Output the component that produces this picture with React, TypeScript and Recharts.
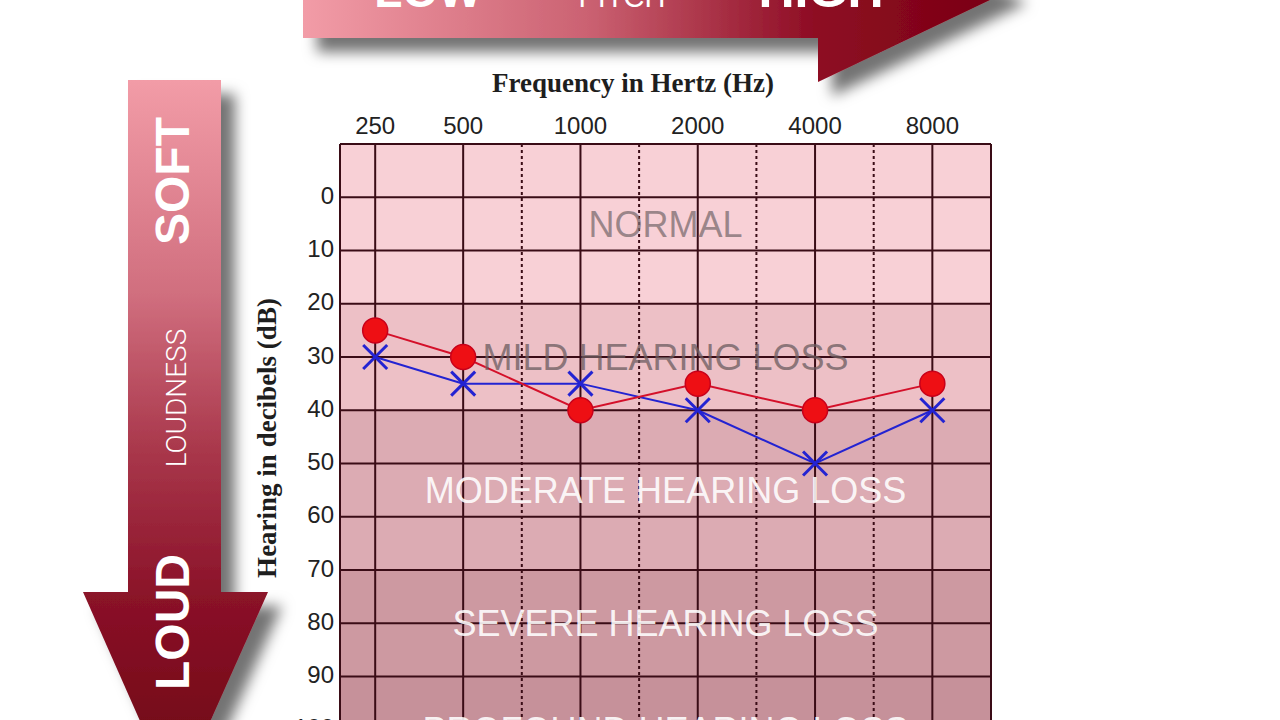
import React from 'react';
import { LineChart, Line, XAxis, YAxis, ReferenceArea, ReferenceLine } from 'recharts';

// ---- data ----
const frequencies = [250, 500, 1000, 2000, 4000, 8000];
const frequencyLabels = ['250', '500', '1000', '2000', '4000', '8000'];
const rightEarDb = [25, 30, 40, 35, 40, 35];
const leftEarDb = [30, 35, 35, 40, 50, 40];
const dbTicks = [0, 10, 20, 30, 40, 50, 60, 70, 80, 90, 100];
const bandNames = ['NORMAL', 'MILD HEARING LOSS', 'MODERATE HEARING LOSS', 'SEVERE HEARING LOSS', 'PROFOUND HEARING LOSS'];
const bandFrom = [-10, 20, 40, 70, 90];
const bandTo = [20, 40, 70, 90, 110];

// ---- styles ----
const bandFills = ['#f8d0d6', '#edc0c6', '#dcabb3', '#cd99a1', '#c6919a'];
const bandTextFills = ['#7c6c70', '#6c5c60', '#ffffff', '#ffffff', '#ffffff'];
const bandTextOpacity = [0.75, 0.75, 0.9, 0.9, 0.9];
const GRID = '#3a0c16';
const SANS = '"Liberation Sans", Arial, sans-serif';
const SERIF = '"Liberation Serif", "Times New Roman", serif';

// audiogram column position: octaves from 500 Hz, the 250 Hz column is compressed
const freqPos = (f: number) => (f < 500 ? 0.25 : Math.log2(f / 500) + 1);
const freqTicks = frequencies.map(freqPos);
const midTicks = freqTicks.slice(1, -1).map((p, i) => (p + freqTicks[i + 2]) / 2);
const X_DOMAIN: [number, number] = [-0.05, 5.5];

const data = frequencies.map((f, i) => ({ pos: freqPos(f), right: rightEarDb[i], left: leftEarDb[i] }));

const RedDot = (props: any) => {
  const { cx, cy, index } = props;
  if (cx == null || cy == null) return <g key={`r${index}`} />;
  return <circle key={`r${index}`} cx={cx} cy={cy} r={12.5} fill="#ee0f14" stroke="#c8001a" strokeWidth={1.5} />;
};

const BlueX = (props: any) => {
  const { cx, cy, index } = props;
  if (cx == null || cy == null) return <g key={`b${index}`} />;
  const s = 12;
  return (
    <g key={`b${index}`} stroke="#2323d2" strokeWidth={3}>
      <line x1={cx - s} y1={cy - s} x2={cx + s} y2={cy + s} />
      <line x1={cx - s} y1={cy + s} x2={cx + s} y2={cy - s} />
    </g>
  );
};

const Arrows = () => (
  <svg width={1280} height={720} style={{ position: 'absolute', left: 0, top: 0 }}>
    <defs>
      <linearGradient id="gTop" gradientUnits="userSpaceOnUse" x1={303} y1={0} x2={1013} y2={0}>
        <stop offset="0" stopColor="#f29ca7" />
        <stop offset="0.4" stopColor="#cb6272" />
        <stop offset="0.72" stopColor="#8e0c24" />
        <stop offset="1" stopColor="#780010" />
      </linearGradient>
      <linearGradient id="gLeft" gradientUnits="userSpaceOnUse" x1={0} y1={80} x2={0} y2={800}>
        <stop offset="0" stopColor="#f29ca7" />
        <stop offset="0.3" stopColor="#d06e7e" />
        <stop offset="0.52" stopColor="#a8364a" />
        <stop offset="0.72" stopColor="#8a1228" />
        <stop offset="1" stopColor="#6a0010" />
      </linearGradient>
      <filter id="shadow" x="-20%" y="-20%" width="150%" height="150%">
        <feDropShadow dx={14} dy={14} stdDeviation={7} floodColor="#000" floodOpacity={0.55} />
      </filter>
    </defs>
    <path d="M303,-60 L818,-60 L818,-104 L1013,-11 L818,82 L818,38 L303,38 Z" fill="url(#gTop)" filter="url(#shadow)" />
    <path d="M128,80 L221,80 L221,592 L268,592 L175,800 L83,592 L128,592 Z" fill="url(#gLeft)" filter="url(#shadow)" />
    <g fill="#fff" fontFamily={SANS} textAnchor="middle">
      <text x={428} y={7} fontSize={46} fontWeight={700}>LOW</text>
      <text x={622} y={7} fontSize={29} fontWeight={300}>PITCH</text>
      <text x={821} y={7} fontSize={50} fontWeight={700}>HIGH</text>
      <text transform="translate(189,181) rotate(-90)" fontSize={48} fontWeight={700}>SOFT</text>
      <text transform="translate(186,398) rotate(-90)" fontSize={28} fontFamily="Roboto, sans-serif" fontWeight={300}>LOUDNESS</text>
      <text transform="translate(189,622) rotate(-90)" fontSize={48} fontWeight={700}>LOUD</text>
    </g>
  </svg>
);

export default function App() {
  return (
    <div style={{ position: 'absolute', left: 0, top: 0, width: 1280, height: 720, overflow: 'hidden', background: '#fff' }}>
      <Arrows />
      <div style={{ position: 'absolute', left: 0, top: 0 }}>
        <LineChart width={1280} height={800} data={data} margin={{ top: 104, right: 289, bottom: 17, left: 280 }}>
          {bandNames.map((name, i) => (
            <ReferenceArea
              key={name}
              y1={bandFrom[i]}
              y2={bandTo[i]}
              fill={bandFills[i]}
              fillOpacity={1}
              stroke="none"
              label={{
                value: name,
                position: 'center',
                fill: bandTextFills[i],
                fillOpacity: bandTextOpacity[i],
                fontSize: 36,
                fontFamily: SANS,
              }}
            />
          ))}
          {dbTicks.map((d) => (
            <ReferenceLine key={`h${d}`} y={d} stroke={GRID} strokeWidth={2} />
          ))}
          {midTicks.map((p) => (
            <ReferenceLine key={`m${p}`} x={p} stroke={GRID} strokeWidth={2} strokeDasharray="3 3" />
          ))}
          {freqTicks.map((p) => (
            <ReferenceLine key={`v${p}`} x={p} stroke={GRID} strokeWidth={2} />
          ))}
          <ReferenceLine x={X_DOMAIN[1]} stroke={GRID} strokeWidth={2} />
          <XAxis
            dataKey="pos"
            type="number"
            orientation="top"
            domain={X_DOMAIN}
            allowDataOverflow
            ticks={freqTicks}
            tickFormatter={(v: number) => frequencyLabels[freqTicks.indexOf(v)] ?? ''}
            height={40}
            tickSize={0}
            tickMargin={10}
            axisLine={{ stroke: GRID, strokeWidth: 2 }}
            tick={{ fill: '#222', fontSize: 24, fontFamily: SANS }}
            label={{
              content: (p: any) => (
                <text
                  x={633}
                  y={(p.viewBox?.y ?? 104) - 12}
                  textAnchor="middle"
                  fill="#1e1e1e"
                  fontSize={27}
                  fontWeight={600}
                  fontFamily={SERIF}
                >
                  Frequency in Hertz (Hz)
                </text>
              ),
            }}
          />
          <YAxis
            type="number"
            reversed
            domain={[-10, 110]}
            allowDataOverflow
            ticks={dbTicks}
            interval={0}
            width={60}
            tickSize={0}
            tickMargin={6}
            axisLine={{ stroke: GRID, strokeWidth: 2 }}
            tick={{ fill: '#222', fontSize: 24, fontFamily: SANS, dy: -2 }}
            label={{
              content: (p: any) => (
                <text
                  transform={`translate(${(p.viewBox?.x ?? 280) - 4},438) rotate(-90)`}
                  textAnchor="middle"
                  fill="#1e1e1e"
                  fontSize={27}
                  fontWeight={600}
                  fontFamily={SERIF}
                >
                  Hearing in decibels (dB)
                </text>
              ),
            }}
          />
          <Line dataKey="left" stroke="#2323d2" strokeWidth={2} dot={BlueX} activeDot={false} isAnimationActive={false} />
          <Line dataKey="right" stroke="#d4102a" strokeWidth={2} dot={RedDot} activeDot={false} isAnimationActive={false} />
        </LineChart>
      </div>
    </div>
  );
}
